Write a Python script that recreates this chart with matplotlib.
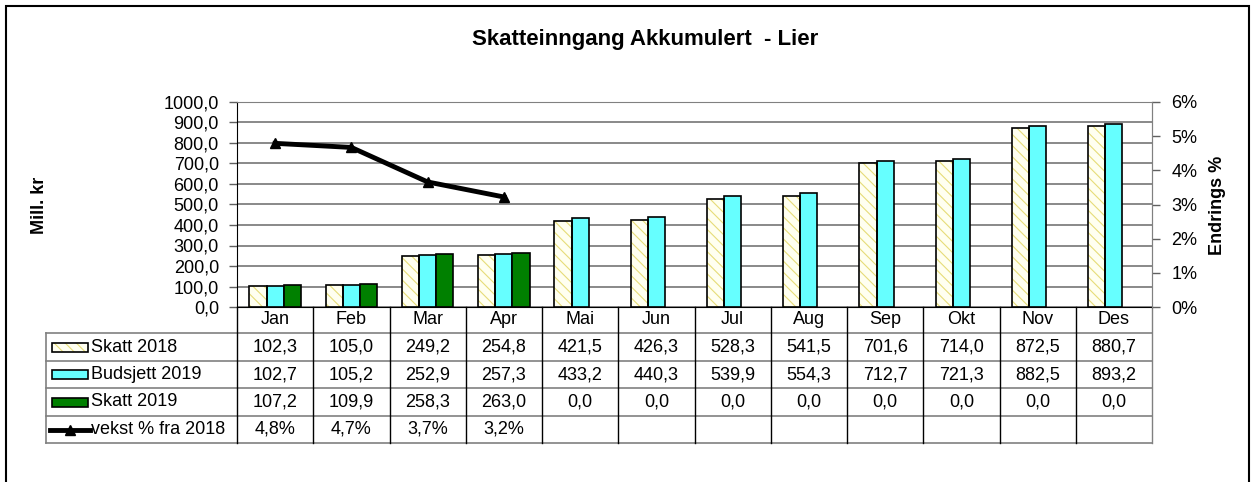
import matplotlib.pyplot as plt
from matplotlib.patches import Rectangle
from matplotlib.lines import Line2D
import matplotlib.transforms as mtransforms

plt.rcParams['font.family'] = ['Liberation Sans', 'DejaVu Sans']
plt.rcParams['hatch.linewidth'] = 0.8

# ------ data -----
months = ['Jan', 'Feb', 'Mar', 'Apr', 'Mai', 'Jun', 'Jul', 'Aug', 'Sep', 'Okt', 'Nov', 'Des']
skatt_2018 = [102.3, 105.0, 249.2, 254.8, 421.5, 426.3, 528.3, 541.5, 701.6, 714.0, 872.5, 880.7]
budsjett_2019 = [102.7, 105.2, 252.9, 257.3, 433.2, 440.3, 539.9, 554.3, 712.7, 721.3, 882.5, 893.2]
skatt_2019 = [107.2, 109.9, 258.3, 263.0, 0.0, 0.0, 0.0, 0.0, 0.0, 0.0, 0.0, 0.0]
vekst = [4.79, 4.67, 3.66, 3.22]
# -----------------

FS = 13
HATCH_C = '#E6DC78'
W, H = 1257, 482
fig = plt.figure(figsize=(W / 100, H / 100), dpi=100)

# outer frame
fig.patches.append(Rectangle((6 / W, -0.1), (1249 - 6) / W, 1.1 - 6 / H,
                             transform=fig.transFigure, fill=False,
                             edgecolor='black', linewidth=1.5))

L, R, T, B = 237, 1152, 102, 307
ax = fig.add_axes([L / W, 1 - B / H, (R - L) / W, (B - T) / H])
ax2 = ax.twinx()

x = list(range(len(months)))
bw = 0.225
x18 = [i - bw for i in x]
x19 = [i + bw for i in x]
# hatched fill first, black outline on top
ax.bar(x18, skatt_2018, width=bw, color='#FFFFF0', edgecolor=HATCH_C, hatch='\\\\\\',
       linewidth=0, zorder=3)
ax.bar(x18, skatt_2018, width=bw, fill=False, edgecolor='black', linewidth=1.2, zorder=4)
ax.bar(x, budsjett_2019, width=bw, color='#66FFFF', edgecolor='black', linewidth=1.2, zorder=3)
ax.bar(x19, skatt_2019, width=bw, color='#008000',
       edgecolor=['black' if v > 0 else 'none' for v in skatt_2019], linewidth=1.2, zorder=3)

ax.set_xlim(-0.5, 11.5)
ax.set_ylim(0, 1000)
ax.set_yticks(range(0, 1001, 100))
ax.set_yticklabels([f'{v},0' for v in range(0, 1001, 100)], fontsize=FS)
ax.set_xticks([])
ax.grid(axis='y', color='#808080', linewidth=1.3, zorder=0)
ax.set_axisbelow(True)
for s in ['top', 'right']:
    ax.spines[s].set_color('#808080')
ax.spines['left'].set_color('black')
ax.spines['bottom'].set_color('black')
ax.tick_params(axis='y', length=6, width=1, color='#606060', pad=7)

ax2.plot(x[:len(vekst)], vekst, color='black', linewidth=3.5, marker='^', markersize=7, zorder=5)
ax2.set_ylim(0, 6)
ax2.set_yticks(range(0, 7))
ax2.set_yticklabels([f'{v}%' for v in range(0, 7)], fontsize=FS)
ax2.tick_params(axis='y', length=6, width=1, color='#606060', pad=8)
for s in ['top', 'left', 'bottom']:
    ax2.spines[s].set_visible(False)
ax2.spines['right'].set_color('#808080')

fig.text(645 / W, 1 - 40 / H, 'Skatteinngang Akkumulert  - Lier', ha='center', va='center',
         fontsize=16, fontweight='bold')
fig.text(40 / W, 1 - 205 / H, 'Mill. kr', rotation=90, ha='center', va='center',
         fontsize=FS, fontweight='bold')
fig.text(1217 / W, 1 - 205 / H, 'Endrings %', rotation=90, ha='center', va='center',
         fontsize=FS, fontweight='bold')

# ------ data table below the plot -----
axh = B - T
def ya(py):
    return (B - py) / axh

row_lines = [333, 361, 388, 416, 443]
trans = mtransforms.blended_transform_factory(ax.transData, ax.transAxes)
x_left = -0.5 - (L - 46) / ((R - L) / 12)

for py in row_lines:
    ax.add_line(Line2D([x_left, 11.5], [ya(py)] * 2, transform=trans, color='#808080',
                       linewidth=1.2, clip_on=False))
ax.add_line(Line2D([x_left, x_left], [ya(333), ya(443)], transform=trans, color='#808080',
                   linewidth=1.2, clip_on=False))
for i in range(13):
    ax.add_line(Line2D([i - 0.5, i - 0.5], [0, ya(443)], transform=trans,
                       color='black' if i < 12 else '#808080', linewidth=1.0, clip_on=False))

for i, m in enumerate(months):
    ax.text(i, ya(320), m, transform=trans, ha='center', va='center', fontsize=FS)

rows = [
    [f'{v:.1f}'.replace('.', ',') for v in skatt_2018],
    [f'{v:.1f}'.replace('.', ',') for v in budsjett_2019],
    [f'{v:.1f}'.replace('.', ',') for v in skatt_2019],
    [f'{v:.1f}%'.replace('.', ',') for v in vekst],
]
labels = ['Skatt 2018', 'Budsjett 2019', 'Skatt 2019', 'vekst % fra 2018']
for r, (vals, py0, py1) in enumerate(zip(rows, row_lines[:-1], row_lines[1:])):
    yc = ya((py0 + py1) / 2)
    for i, s in enumerate(vals):
        ax.text(i, yc, s, transform=trans, ha='center', va='center', fontsize=FS)

# legend keys in the first column
fx = lambda px: px / W
fy = lambda py: 1 - py / H
keys = [('#FFFFF0', '\\\\\\'), ('#66FFFF', None), ('#008000', None)]
for r, (fc, h) in enumerate(keys):
    yc = (row_lines[r] + row_lines[r + 1]) / 2
    if h:
        fig.patches.append(Rectangle((fx(52), fy(yc + 4.5)), 36 / W, 9 / H,
                                     transform=fig.transFigure, facecolor=fc,
                                     edgecolor=HATCH_C, linewidth=0, hatch=h))
        fc = 'none'
    fig.patches.append(Rectangle((fx(52), fy(yc + 4.5)), 36 / W, 9 / H,
                                 transform=fig.transFigure, facecolor=fc,
                                 edgecolor='black', linewidth=1.2))
yc = (row_lines[3] + row_lines[4]) / 2
fig.lines.append(Line2D([fx(50), fx(90)], [fy(yc)] * 2, transform=fig.transFigure,
                        color='black', linewidth=3.5))
fig.lines.append(Line2D([fx(70)], [fy(yc)], transform=fig.transFigure, color='black',
                        marker='^', markersize=7, linestyle='none'))
for r, lab in enumerate(labels):
    yc = (row_lines[r] + row_lines[r + 1]) / 2
    fig.text(fx(91), fy(yc), lab, ha='left', va='center', fontsize=FS)

fig.savefig('out.png', dpi=100)
